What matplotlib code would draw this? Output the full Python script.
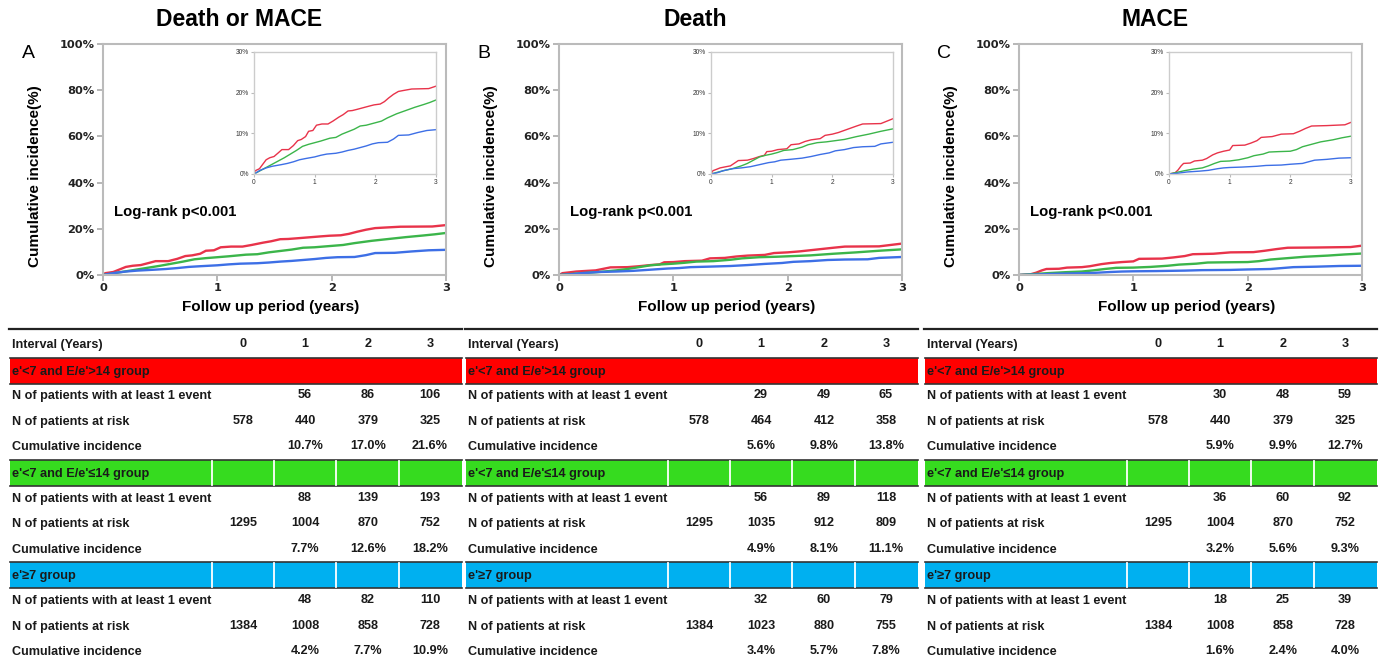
import matplotlib
matplotlib.use('Agg')
import matplotlib.pyplot as plt
from matplotlib.patches import Rectangle

plt.rcParams['font.family'] = ['Liberation Sans', 'DejaVu Sans']

W, H = 1384, 661

panel_titles = ['Death or MACE', 'Death', 'MACE']
panel_letters = ['A', 'B', 'C']
group_names = ["e'<7 and E/e'>14 group", "e'<7 and E/e'\u226414 group", "e'\u22657 group"]
interval_years = [0, 1, 2, 3]
y_ticks = [0, 20, 40, 60, 80, 100]
inset_ticks = [0, 10, 20, 30]

# curves: (years, cumulative incidence %)
dm_red = [(0, 0), (0.02, 0.8), (0.09, 1.3), (0.15, 2.5), (0.2, 3.5), (0.26, 4.0), (0.33, 4.3),
          (0.4, 5.2), (0.46, 6.0), (0.57, 6.0), (0.65, 7.0), (0.72, 8.2), (0.78, 8.5),
          (0.85, 9.2), (0.9, 10.5), (0.97, 10.7), (1.03, 12.0), (1.12, 12.3), (1.22, 12.3),
          (1.3, 13.0), (1.4, 14.0), (1.47, 14.6), (1.55, 15.5), (1.62, 15.6), (1.7, 15.9),
          (1.8, 16.3), (1.9, 16.7), (1.98, 17.0), (2.08, 17.2), (2.15, 17.8), (2.22, 18.7),
          (2.3, 19.6), (2.38, 20.3), (2.45, 20.5), (2.6, 20.9), (2.88, 21.0), (2.94, 21.3),
          (3.0, 21.6)]
dm_green = [(0, 0), (0.1, 0.8), (0.2, 1.6), (0.3, 2.4), (0.4, 3.2), (0.5, 4.0), (0.6, 4.9),
            (0.7, 5.8), (0.8, 6.8), (0.9, 7.3), (1.0, 7.7), (1.1, 8.1), (1.25, 8.8),
            (1.35, 9.0), (1.45, 9.8), (1.55, 10.4), (1.65, 11.0), (1.75, 11.8), (1.85, 12.0),
            (2.0, 12.6), (2.1, 13.0), (2.2, 13.8), (2.35, 14.8), (2.5, 15.6), (2.65, 16.4),
            (2.8, 17.1), (2.9, 17.6), (3.0, 18.2)]
dm_blue = [(0, 0), (0.1, 0.9), (0.2, 1.5), (0.3, 1.9), (0.45, 2.3), (0.55, 2.6), (0.65, 3.0),
           (0.75, 3.5), (0.85, 3.8), (1.0, 4.2), (1.1, 4.6), (1.2, 4.9), (1.35, 5.1),
           (1.45, 5.4), (1.55, 5.8), (1.65, 6.1), (1.75, 6.5), (1.85, 6.9), (1.95, 7.4),
           (2.05, 7.7), (2.2, 7.8), (2.3, 8.6), (2.38, 9.5), (2.55, 9.6), (2.7, 10.2),
           (2.85, 10.7), (3.0, 10.9)]

d_red = [(0, 0), (0.03, 0.8), (0.1, 1.2), (0.15, 1.5), (0.25, 1.8), (0.32, 2.0), (0.4, 2.8),
         (0.45, 3.3), (0.6, 3.4), (0.7, 3.8), (0.8, 4.3), (0.88, 4.6), (0.92, 5.5),
         (1.0, 5.6), (1.1, 6.0), (1.25, 6.2), (1.32, 7.2), (1.45, 7.4), (1.55, 8.0),
         (1.65, 8.4), (1.8, 8.7), (1.88, 9.5), (2.0, 9.8), (2.1, 10.2), (2.25, 11.0),
         (2.4, 11.8), (2.5, 12.3), (2.8, 12.4), (2.9, 13.0), (3.0, 13.6)]
d_green = [(0, 0), (0.1, 0.4), (0.2, 0.8), (0.35, 1.3), (0.5, 2.0), (0.6, 2.6), (0.7, 3.4),
           (0.8, 4.2), (0.9, 4.6), (1.0, 4.9), (1.1, 5.3), (1.2, 5.8), (1.35, 6.0),
           (1.5, 6.6), (1.6, 7.2), (1.75, 7.7), (1.9, 7.9), (2.0, 8.1), (2.2, 8.5),
           (2.4, 9.2), (2.6, 9.8), (2.8, 10.5), (3.0, 11.1)]
d_blue = [(0, 0), (0.1, 0.3), (0.2, 0.8), (0.35, 1.3), (0.5, 1.5), (0.65, 1.8), (0.8, 2.3),
          (0.95, 2.8), (1.05, 3.0), (1.15, 3.4), (1.3, 3.6), (1.5, 3.9), (1.65, 4.3),
          (1.8, 4.8), (1.95, 5.2), (2.05, 5.7), (2.2, 6.0), (2.35, 6.5), (2.5, 6.7),
          (2.7, 6.8), (2.8, 7.4), (3.0, 7.8)]

m_red = [(0, 0), (0.1, 0.3), (0.15, 1.0), (0.2, 2.0), (0.24, 2.6), (0.35, 2.7), (0.42, 3.2),
         (0.55, 3.4), (0.62, 3.8), (0.72, 4.7), (0.8, 5.2), (0.9, 5.6), (1.0, 5.9),
         (1.05, 7.0), (1.25, 7.1), (1.35, 7.6), (1.45, 8.2), (1.52, 9.0), (1.7, 9.2),
         (1.85, 9.8), (2.05, 9.9), (2.15, 10.5), (2.25, 11.2), (2.35, 11.8), (2.6, 11.9),
         (2.9, 12.1), (3.0, 12.7)]
m_green = [(0, 0), (0.1, 0.3), (0.25, 0.8), (0.4, 1.2), (0.55, 1.5), (0.65, 2.0), (0.75, 2.6),
           (0.85, 3.1), (1.0, 3.2), (1.15, 3.5), (1.3, 4.0), (1.4, 4.5), (1.55, 4.9),
           (1.65, 5.4), (1.8, 5.5), (2.0, 5.6), (2.1, 6.0), (2.2, 6.7), (2.35, 7.3),
           (2.5, 7.9), (2.7, 8.4), (2.85, 8.9), (3.0, 9.3)]
m_blue = [(0, 0), (0.15, 0.2), (0.3, 0.5), (0.5, 0.7), (0.65, 0.9), (0.8, 1.3), (0.9, 1.5),
          (1.0, 1.6), (1.2, 1.7), (1.45, 1.9), (1.6, 2.1), (1.85, 2.2), (2.0, 2.4),
          (2.2, 2.6), (2.3, 3.0), (2.4, 3.4), (2.6, 3.6), (2.8, 3.9), (3.0, 4.0)]

curves = [[dm_red, dm_green, dm_blue], [d_red, d_green, d_blue], [m_red, m_green, m_blue]]

# risk tables: rows = groups (red, green, blue)
dm_events = [[56, 86, 106], [88, 139, 193], [48, 82, 110]]
dm_at_risk = [[578, 440, 379, 325], [1295, 1004, 870, 752], [1384, 1008, 858, 728]]
dm_cum_inc = [[10.7, 17.0, 21.6], [7.7, 12.6, 18.2], [4.2, 7.7, 10.9]]

d_events = [[29, 49, 65], [56, 89, 118], [32, 60, 79]]
d_at_risk = [[578, 464, 412, 358], [1295, 1035, 912, 809], [1384, 1023, 880, 755]]
d_cum_inc = [[5.6, 9.8, 13.8], [4.9, 8.1, 11.1], [3.4, 5.7, 7.8]]

m_events = [[30, 48, 59], [36, 60, 92], [18, 25, 39]]
m_at_risk = [[578, 440, 379, 325], [1295, 1004, 870, 752], [1384, 1008, 858, 728]]
m_cum_inc = [[5.9, 9.9, 12.7], [3.2, 5.6, 9.3], [1.6, 2.4, 4.0]]

events = [dm_events, d_events, m_events]
at_risk = [dm_at_risk, d_at_risk, m_at_risk]
cum_inc = [dm_cum_inc, d_cum_inc, m_cum_inc]

line_colors = ['#E8334A', '#3BB54A', '#3D6FE6']
bar_colors = ['#FF0000', '#36DB1F', '#00B0F0']

fig = plt.figure(figsize=(W / 100, H / 100), dpi=100)


def px_axes(left, top, right, bottom):
    return fig.add_axes([left / W, 1 - bottom / H, (right - left) / W, (bottom - top) / H])


# table layer in pixel coordinates
tab = fig.add_axes([0, 0, 1, 1])
tab.set_xlim(0, W)
tab.set_ylim(H, 0)
tab.axis('off')

main_lefts = [103, 559, 1019]
inset_lefts = [254, 711, 1169]
table_lefts = [10, 466, 925]
table_w = 452
col_offsets = [233, 295, 358, 420]
sep_offsets = [202, 264, 326, 389]
row_y0, row_step = 345, 25.6

for p in range(3):
    L = main_lefts[p]
    ax = px_axes(L, 44, L + 343, 275)
    for c, col in zip(curves[p], line_colors):
        ax.plot([t for t, v in c], [v for t, v in c], color=col, lw=1.7,
                solid_joinstyle='miter')
    ax.set_xlim(0, 3)
    ax.set_ylim(0, 100)
    ax.set_xticks(interval_years)
    ax.set_yticks(y_ticks)
    ax.set_yticklabels(['%d%%' % v for v in y_ticks])
    for s in ax.spines.values():
        s.set_color('#BBBBBB')
        s.set_linewidth(1.5)
    ax.tick_params(length=4, width=1.2, color='#AAAAAA', pad=2)
    for lab in ax.get_xticklabels() + ax.get_yticklabels():
        lab.set_family('DejaVu Sans')
        lab.set_fontweight('bold')
        lab.set_fontsize(8.2)
        lab.set_color('#222222')
    ax.text(0.032, 0.273, 'Log-rank p<0.001', transform=ax.transAxes, fontsize=10.7,
            fontweight='bold', va='center', ha='left')
    fig.text((L - 68) / W, 1 - 176 / H, 'Cumulative incidence(%)', rotation=90,
             ha='center', va='center', fontsize=11, fontweight='bold')
    fig.text((L + 168) / W, 1 - 307 / H, 'Follow up period (years)', ha='center',
             va='center', fontsize=11, fontweight='bold')
    fig.text((L + 136) / W, 1 - 19 / H, panel_titles[p], ha='center', va='center',
             fontsize=16.5, fontweight='bold')
    fig.text((L - 75) / W, 1 - 53 / H, panel_letters[p], ha='center', va='center',
             fontsize=14)

    # inset
    IL = inset_lefts[p]
    ins = px_axes(IL, 52, IL + 182, 174)
    for c, col in zip(curves[p], line_colors):
        ins.plot([t for t, v in c], [v for t, v in c], color=col, lw=1.0)
    ins.set_xlim(0, 3)
    ins.set_ylim(0, 30)
    ins.set_xticks(interval_years)
    ins.set_yticks(inset_ticks)
    ins.set_yticklabels(['%d%%' % v for v in inset_ticks])
    for s in ins.spines.values():
        s.set_color('#CCCCCC')
        s.set_linewidth(1.0)
    ins.tick_params(length=2, width=0.8, color='#BBBBBB', pad=1.5, labelsize=4.8,
                    labelcolor='#333333')

    # risk table
    x0 = table_lefts[p]
    tab.plot([x0 - 1, x0 + table_w], [329, 329], color='#222222', lw=1.6)
    rows = [('Interval (Years)', [str(v) for v in interval_years], None)]
    for g in range(3):
        rows.append((group_names[g], None, g))
        rows.append(('N of patients with at least 1 event',
                     [''] + [str(v) for v in events[p][g]], None))
        rows.append(('N of patients at risk', [str(v) for v in at_risk[p][g]], None))
        rows.append(('Cumulative incidence', [''] + ['%.1f%%' % v for v in cum_inc[p][g]], None))
    for i, (label, vals, g) in enumerate(rows):
        y = row_y0 + i * row_step
        if g is not None:
            tab.add_patch(Rectangle((x0, y - 13), table_w, 26, facecolor=bar_colors[g],
                                    edgecolor='none'))
            tab.plot([x0, x0 + table_w], [y - 13, y - 13], color='#333333', lw=1.2)
            tab.plot([x0, x0 + table_w], [y + 13, y + 13], color='#333333', lw=1.2)
            if g > 0:
                for so in sep_offsets:
                    tab.plot([x0 + so, x0 + so], [y - 12, y + 12], color='white', lw=1.3)
            tab.text(x0 + 2, y + 1, label, ha='left', va='center', fontsize=9.2,
                     fontweight='bold', color='#1a1a1a')
        else:
            tab.text(x0 + 2, y, label, ha='left', va='center', fontsize=9.1,
                     fontweight='bold', color='#1a1a1a')
            for co, v in zip(col_offsets, vals):
                tab.text(x0 + co, y - 1, v, ha='center', va='center', fontsize=9.1,
                         fontweight='bold', color='#1a1a1a')

fig.savefig('out.png', dpi=100)
